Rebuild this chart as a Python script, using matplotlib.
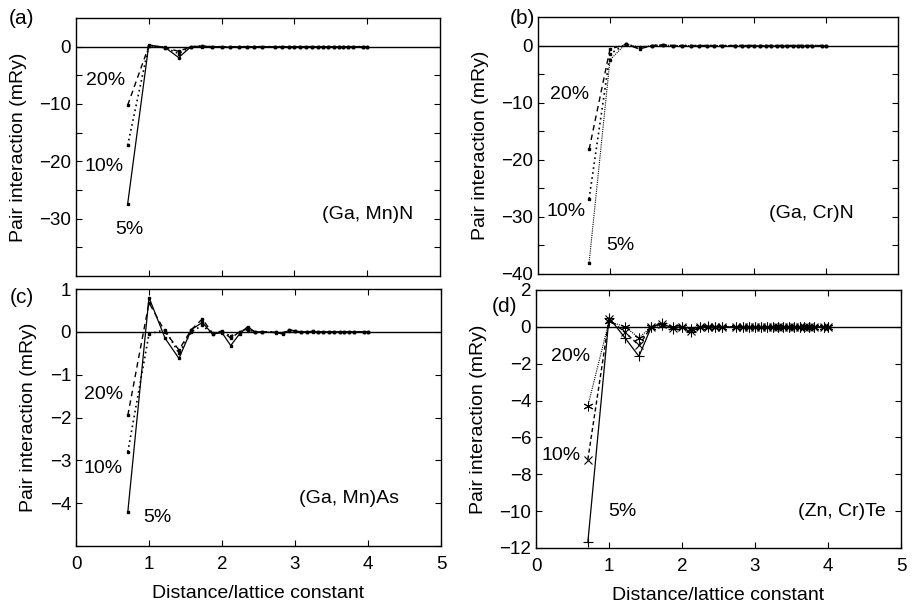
import matplotlib
matplotlib.use("Agg")
from matplotlib import pyplot as plt
from matplotlib.ticker import FixedLocator, NullFormatter

plt.rcParams["font.family"] = ["Liberation Sans", "DejaVu Sans"]

# shell distances (units of lattice constant)
dist = [0.71, 1.00, 1.22, 1.41, 1.58, 1.73, 1.87, 2.00, 2.12, 2.24,
        2.35, 2.45, 2.55, 2.74, 2.83, 2.92, 3.00, 3.08, 3.16, 3.24,
        3.32, 3.39, 3.46, 3.54, 3.61, 3.67, 3.74, 3.81, 3.94, 4.00]

# (a) (Ga, Mn)N
gamnn_5 = [-27.4, 0.3, -0.1, -1.9, 0.0, 0.1, 0.0, 0.0, -0.1, 0.0,
           0.0, 0.0, 0.0, 0.0, 0.0, 0.0, 0.0, 0.0, 0.0, 0.0,
           0.0, 0.0, 0.0, 0.0, 0.0, 0.0, 0.0, 0.0, 0.0, 0.0]
gamnn_10 = [-17.2, 0.2, -0.2, -1.2, 0.0, 0.1, 0.0, 0.0, -0.1, 0.0,
            0.0, 0.0, 0.0, 0.0, 0.0, 0.0, 0.0, 0.0, 0.0, 0.0,
            0.0, 0.0, 0.0, 0.0, 0.0, 0.0, 0.0, 0.0, 0.0, 0.0]
gamnn_20 = [-10.2, 0.1, -0.2, -0.8, 0.0, 0.0, 0.0, 0.0, 0.0, 0.0,
            0.0, 0.0, 0.0, 0.0, 0.0, 0.0, 0.0, 0.0, 0.0, 0.0,
            0.0, 0.0, 0.0, 0.0, 0.0, 0.0, 0.0, 0.0, 0.0, 0.0]

# (b) (Ga, Cr)N
gacrn_5 = [-38.0, -2.5, 0.3, -0.3, 0.0, 0.1, 0.0, 0.0, 0.0, 0.0,
           0.0, 0.0, 0.0, 0.0, 0.0, 0.0, 0.0, 0.0, 0.0, 0.0,
           0.0, 0.0, 0.0, 0.0, 0.0, 0.0, 0.0, 0.0, 0.0, 0.0]
gacrn_10 = [-26.8, -1.5, 0.3, -0.5, 0.0, 0.1, 0.0, 0.0, 0.0, 0.0,
            0.0, 0.0, 0.0, 0.0, 0.0, 0.0, 0.0, 0.0, 0.0, 0.0,
            0.0, 0.0, 0.0, 0.0, 0.0, 0.0, 0.0, 0.0, 0.0, 0.0]
gacrn_20 = [-18.2, -0.6, 0.2, -0.6, 0.0, 0.1, 0.0, 0.0, 0.0, 0.0,
            0.0, 0.0, 0.0, 0.0, 0.0, 0.0, 0.0, 0.0, 0.0, 0.0,
            0.0, 0.0, 0.0, 0.0, 0.0, 0.0, 0.0, 0.0, 0.0, 0.0]

# (c) (Ga, Mn)As
gamnas_5 = [-4.20, 0.80, -0.15, -0.62, 0.05, 0.22, -0.05, -0.02, -0.32, -0.05,
            0.12, 0.00, 0.00, -0.02, -0.05, 0.04, 0.02, 0.00, 0.00, 0.01,
            0.00, 0.00, 0.00, 0.00, 0.00, 0.00, 0.00, 0.00, 0.00, 0.00]
gamnas_10 = [-2.80, -0.05, 0.05, -0.50, 0.00, 0.15, -0.05, 0.00, -0.10, 0.00,
             0.05, 0.00, 0.00, 0.00, -0.03, 0.03, 0.01, 0.00, 0.00, 0.00,
             0.00, 0.00, 0.00, 0.00, 0.00, 0.00, 0.00, 0.00, 0.00, 0.00]
gamnas_20 = [-1.95, 0.68, 0.00, -0.42, 0.05, 0.30, -0.03, 0.02, -0.15, 0.00,
             0.08, 0.00, 0.00, -0.01, -0.03, 0.05, 0.02, 0.00, 0.00, 0.01,
             0.00, 0.00, 0.00, 0.00, 0.00, 0.00, 0.00, 0.00, 0.00, 0.00]

# (d) (Zn, Cr)Te
zncrte_5 = [-11.7, 0.5, -0.6, -1.6, 0.0, 0.2, -0.1, 0.0, -0.3, 0.0,
            0.05, 0.0, 0.0, 0.0, 0.0, 0.0, 0.0, 0.0, 0.0, 0.0,
            0.0, 0.0, 0.0, 0.0, 0.0, 0.0, 0.0, 0.0, 0.0, 0.0]
zncrte_10 = [-7.2, 0.4, -0.3, -1.0, 0.0, 0.15, -0.05, 0.0, -0.2, 0.0,
             0.0, 0.0, 0.0, 0.0, 0.0, 0.0, 0.0, 0.0, 0.0, 0.0,
             0.0, 0.0, 0.0, 0.0, 0.0, 0.0, 0.0, 0.0, 0.0, 0.0]
zncrte_20 = [-4.3, 0.3, 0.0, -0.6, 0.0, 0.1, 0.0, 0.0, -0.1, 0.0,
             0.0, 0.0, 0.0, 0.0, 0.0, 0.0, 0.0, 0.0, 0.0, 0.0,
             0.0, 0.0, 0.0, 0.0, 0.0, 0.0, 0.0, 0.0, 0.0, 0.0]

TICK_FS = 13.5
LABEL_FS = 14
ANNOT_FS = 14

fig = plt.figure(figsize=(9.15, 6.08), dpi=100)
W, H = 915, 608


def add_ax(left, top, right, bottom):
    return fig.add_axes([left / W, 1 - bottom / H, (right - left) / W, (bottom - top) / H])


def style(ax, ylim, major, minor, ylabels, bottom_row):
    ax.set_xlim(0, 5)
    ax.set_ylim(*ylim)
    ax.axhline(0, color="black", lw=1.0, zorder=1)
    ax.yaxis.set_major_locator(FixedLocator(major))
    ax.set_yticklabels([str(v).replace("-", "\u2212") for v in ylabels])
    if minor:
        ax.yaxis.set_minor_locator(FixedLocator(minor))
    if bottom_row:
        ax.set_xticks([0, 1, 2, 3, 4, 5])
        ax.set_xlabel("Distance/lattice constant", fontsize=LABEL_FS, labelpad=9)
    else:
        ax.set_xticks([1, 2, 3, 4])
        ax.xaxis.set_major_formatter(NullFormatter())
    ax.tick_params(which="both", direction="in", top=True, right=True,
                   length=4, width=0.8, labelsize=TICK_FS)
    ax.tick_params(axis="x", pad=7)
    for s in ax.spines.values():
        s.set_linewidth(1.0)
    ax.set_ylabel("Pair interaction (mRy)", fontsize=LABEL_FS, labelpad=9)


# (a)
ax_a = add_ax(76, 18, 440, 276)
ax_a.plot(dist, gamnn_5, "-", color="black", lw=0.9, marker="s", ms=2)
ax_a.plot(dist, gamnn_10, color="black", lw=1.2, ls=(0, (1, 2)), marker="s", ms=2)
ax_a.plot(dist, gamnn_20, color="black", lw=1.0, ls=(0, (4, 3)), marker="s", ms=2)
style(ax_a, (-40, 5), [-30, -20, -10, 0], [-35, -25, -15, -5],
      [-30, -20, -10, 0], False)
ax_a.text(0.41, -5.9, "20%", fontsize=ANNOT_FS, ha="center", va="center")
ax_a.text(0.39, -20.9, "10%", fontsize=ANNOT_FS, ha="center", va="center")
ax_a.text(0.73, -31.9, "5%", fontsize=ANNOT_FS, ha="center", va="center")
ax_a.text(4.0, -29.3, "(Ga, Mn)N", fontsize=ANNOT_FS, ha="center", va="center")

# (b)
ax_b = add_ax(538, 17, 898, 274)
ax_b.plot(dist, gacrn_5, color="black", lw=0.8, ls=(0, (1, 1)), marker="s", ms=1.6)
ax_b.plot(dist, gacrn_10, color="black", lw=1.2, ls=(0, (1, 2)), marker="s", ms=2)
ax_b.plot(dist, gacrn_20, color="black", lw=1.0, ls=(0, (4, 3)), marker="s", ms=2)
style(ax_b, (-40, 5), [-40, -30, -20, -10, 0], [-35, -25, -15, -5],
      [-40, -30, -20, -10, 0], False)
ax_b.text(0.44, -8.5, "20%", fontsize=ANNOT_FS, ha="center", va="center")
ax_b.text(0.39, -29.1, "10%", fontsize=ANNOT_FS, ha="center", va="center")
ax_b.text(1.14, -35.0, "5%", fontsize=ANNOT_FS, ha="center", va="center")
ax_b.text(3.79, -29.4, "(Ga, Cr)N", fontsize=ANNOT_FS, ha="center", va="center")

# (c)
ax_c = add_ax(76, 289, 441, 546)
ax_c.plot(dist, gamnas_5, "-", color="black", lw=0.9, marker="s", ms=2)
ax_c.plot(dist, gamnas_10, color="black", lw=1.2, ls=(0, (1, 2)), marker="s", ms=2)
ax_c.plot(dist, gamnas_20, color="black", lw=1.0, ls=(0, (4, 3)), marker="s", ms=2)
style(ax_c, (-5, 1), [-4, -3, -2, -1, 0, 1], [-5],
      [-4, -3, -2, -1, 0, 1], True)
ax_c.text(0.38, -1.46, "20%", fontsize=ANNOT_FS, ha="center", va="center")
ax_c.text(0.37, -3.18, "10%", fontsize=ANNOT_FS, ha="center", va="center")
ax_c.text(1.11, -4.33, "5%", fontsize=ANNOT_FS, ha="center", va="center")
ax_c.text(3.74, -3.88, "(Ga, Mn)As", fontsize=ANNOT_FS, ha="center", va="center")

# (d)
ax_d = add_ax(536, 290, 901, 548)
ax_d.plot(dist, zncrte_5, "-", color="black", lw=0.9, marker="+", ms=7, mew=0.8)
ax_d.plot(dist, zncrte_10, color="black", lw=1.0, ls=(0, (3, 2)), marker="x", ms=6, mew=0.8)
ax_d.plot(dist, zncrte_20, color="black", lw=0.8, ls=(0, (1, 1)), marker=(6, 2, 0),
          ms=7, mew=0.7)
style(ax_d, (-12, 2), [-12, -10, -8, -6, -4, -2, 0, 2], None,
      [-12, -10, -8, -6, -4, -2, 0, 2], True)
ax_d.text(0.47, -1.6, "20%", fontsize=ANNOT_FS, ha="center", va="center")
ax_d.text(0.34, -7.0, "10%", fontsize=ANNOT_FS, ha="center", va="center")
ax_d.text(1.18, -10.0, "5%", fontsize=ANNOT_FS, ha="center", va="center")
ax_d.text(4.19, -10.0, "(Zn, Cr)Te", fontsize=ANNOT_FS, ha="center", va="center")

# panel letters
fig.text(22 / W, 1 - 19 / H, "(a)", fontsize=15, ha="center", va="center")
fig.text(522 / W, 1 - 19 / H, "(b)", fontsize=15, ha="center", va="center")
fig.text(22 / W, 1 - 298 / H, "(c)", fontsize=15, ha="center", va="center")
fig.text(505 / W, 1 - 306 / H, "(d)", fontsize=15, ha="center", va="center")

fig.savefig("out.png", dpi=100)
